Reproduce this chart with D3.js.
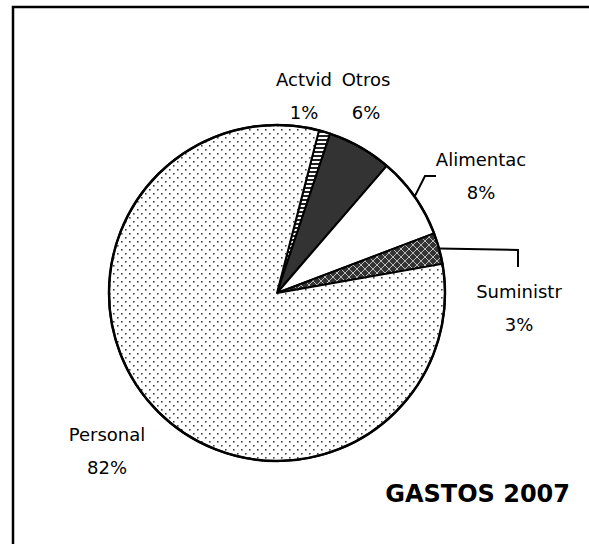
<!DOCTYPE html>
<html>
<head>
<meta charset="utf-8">
<script src="https://cdn.jsdelivr.net/npm/d3@7"></script>
<style>
  body { margin: 0; background: #fff; }
  text { font-family: "Comic Sans MS", "DejaVu Sans", sans-serif; }
</style>
</head>
<body>
<div id="vis-container"></div>
<script>
// data
const categories = ["Actvid", "Otros", "Alimentac", "Suministr", "Personal"];
const values = [1.1, 6.2, 7.9, 3.0, 81.8];
const title = "GASTOS 2007";

// layout
var width = 589,
  height = 544,
  cx = 277,
  cy = 293,
  radius = 168,
  startDeg = 14.5;

// label boxes (centre of name line), leader style
const labelPos = {
  Actvid: { x: 304, y: 80, leader: null },
  Otros: { x: 366, y: 80, leader: null },
  Alimentac: { x: 481, y: 160, leader: "left" },
  Suministr: { x: 519, y: 292, leader: "top" },
  Personal: { x: 107, y: 435, leader: null },
};

var svg = d3
  .select("#vis-container")
  .append("svg")
  .attr("width", width)
  .attr("height", height);

var defs = svg.append("defs");

// dotted fill for Personal
var dots = defs
  .append("pattern")
  .attr("id", "dots")
  .attr("patternUnits", "userSpaceOnUse")
  .attr("width", 8)
  .attr("height", 8);
dots.append("rect").attr("width", 8).attr("height", 8).attr("fill", "#fff");
[[0, 0], [4, 4]].forEach((p) => {
  dots
    .append("rect")
    .attr("x", p[0])
    .attr("y", p[1])
    .attr("width", 1.6)
    .attr("height", 1.6)
    .attr("fill", "#444");
});

// crosshatch for Suministr
var hatch = defs
  .append("pattern")
  .attr("id", "hatch")
  .attr("patternUnits", "userSpaceOnUse")
  .attr("width", 8)
  .attr("height", 8);
hatch.append("rect").attr("width", 8).attr("height", 8).attr("fill", "#333");
hatch
  .append("path")
  .attr("d", "M0,0L8,8M8,0L0,8M-1,7L1,9M7,-1L9,1M-1,1L1,-1M7,9L9,7")
  .attr("stroke", "#bbb")
  .attr("stroke-width", 1);

// stripes for Actvid
var stripes = defs
  .append("pattern")
  .attr("id", "stripes")
  .attr("patternUnits", "userSpaceOnUse")
  .attr("width", 4)
  .attr("height", 4);
stripes.append("rect").attr("width", 4).attr("height", 4).attr("fill", "#222");
stripes.append("rect").attr("width", 4).attr("height", 2).attr("fill", "#fff");

const fills = {
  Actvid: "url(#stripes)",
  Otros: "#333",
  Alimentac: "#fff",
  Suministr: "url(#hatch)",
  Personal: "url(#dots)",
};

// frame (only top and left edges fall inside the picture)
svg
  .append("rect")
  .attr("x", 13)
  .attr("y", 7)
  .attr("width", 700)
  .attr("height", 700)
  .attr("fill", "none")
  .attr("stroke", "#000")
  .attr("stroke-width", 2.5);

var data = categories.map((c, i) => ({ name: c, value: values[i] }));
var total = d3.sum(values);

var start = (startDeg * Math.PI) / 180;
var pie = d3
  .pie()
  .sort(null)
  .value((d) => d.value)
  .startAngle(start)
  .endAngle(start + 2 * Math.PI);

var arc = d3.arc().innerRadius(0).outerRadius(radius);
var edge = d3.arc().innerRadius(radius).outerRadius(radius);

var g = svg.append("g").attr("transform", "translate(" + cx + "," + cy + ")");

var arcs = pie(data);

g.selectAll("path.slice")
  .data(arcs)
  .enter()
  .append("path")
  .attr("class", "slice")
  .attr("d", arc)
  .attr("fill", (d) => fills[d.data.name])
  .attr("stroke", "#000")
  .attr("stroke-width", 2)
  .attr("stroke-linejoin", "round");

g.append("circle")
  .attr("r", radius)
  .attr("fill", "none")
  .attr("stroke", "#000")
  .attr("stroke-width", 2.5);

// leader lines
arcs.forEach((d) => {
  var lp = labelPos[d.data.name];
  if (!lp.leader) return;
  var c = edge.centroid(d);
  var p0 = [cx + c[0], cy + c[1]];
  var pts;
  if (lp.leader === "left") {
    pts = [p0, [lp.x - 56, lp.y + 16], [lp.x - 45, lp.y + 16]];
  } else {
    pts = [p0, [lp.x - 1, lp.y - 42], [lp.x - 1, lp.y - 25]];
  }
  svg
    .append("path")
    .attr("d", d3.line()(pts))
    .attr("fill", "none")
    .attr("stroke", "#000")
    .attr("stroke-width", 2);
});

// labels
arcs.forEach((d) => {
  var lp = labelPos[d.data.name];
  var t = svg
    .append("text")
    .attr("text-anchor", "middle")
    .attr("font-size", 18)
    .attr("fill", "#000");
  t.append("tspan")
    .attr("x", lp.x)
    .attr("y", lp.y + 6)
    .text(d.data.name);
  t.append("tspan")
    .attr("x", lp.x)
    .attr("y", lp.y + 39)
    .text(Math.round((d.data.value / total) * 100) + "%");
});

svg
  .append("text")
  .attr("x", 570)
  .attr("y", 502)
  .attr("text-anchor", "end")
  .attr("font-size", 24)
  .attr("font-weight", "bold")
  .text(title);
</script>
</body>
</html>
